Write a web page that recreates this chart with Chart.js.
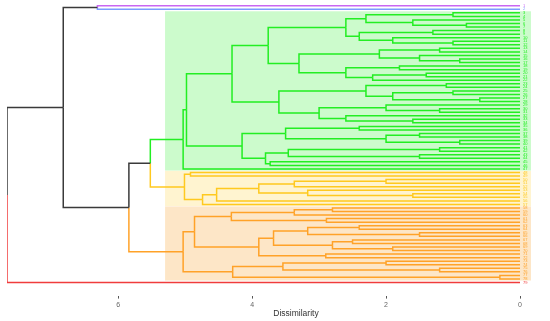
<!DOCTYPE html>
<html lang="en">
<head>
<meta charset="UTF-8">
<title>Dendrogram</title>
<script src="https://cdn.jsdelivr.net/npm/chart.js"></script>
<style>
  html, body { margin: 0; padding: 0; background: #fff; }
  #wrap { width: 550px; height: 321px; }
</style>
</head>
<body>
<div id="wrap"><canvas id="dend"></canvas></div>
<script>
// leaf labels, top to bottom (too small to read in the source, so plain ids)
const leafLabels = [
  '1','2','3','4','5','6','7','8','9','10','11','12','13','14','15','16','17','18','19','20',
  '21','22','23','24','25','26','27','28','29','30','31','32','33','34','35','36','37','38','39','40',
  '41','42','43','44','45','46','47','48','49','50','51','52','53','54','55','56','57','58','59','60',
  '61','62','63','64','65','66','67','68','69','70','71','72','73','74','75','76','77','78','79'
];

// k = 6 clusters, top to bottom
const clusterSizes  = [1, 1, 45, 10, 21, 1];
const clusterColors = ['#c966f2', '#7c9cff', '#22ee22', '#ffc91f', '#ffa228', '#f03c3c'];
const clusterFills  = [null, null, 'rgba(40,240,40,0.24)', 'rgba(255,205,40,0.22)', 'rgba(248,160,40,0.26)', null];
const rectCut = 5.3;

// subtrees: [height, upper, lower]; plain numbers are leaf indices
const greenTree = [5.03,
  [4.98,
    [4.3,
      [3.76,
        [2.6, [2.3, [1.0, 2, 3], [1.6, 4, [0.8, 5, 6]]], [2.4, [1.3, 7, 8], [1.9, 9, [1.0, 10, 11]]]],
        [3.3, [2.1, [1.2, 12, 13], [1.5, 14, [0.9, 15, 16]]], [2.6, [1.8, 17, 18], [2.2, [1.4, 19, 20], 21]]]],
      [3.6,
        [2.3, [1.1, 22, 23], [1.9, [1.0, 24, 25], [0.6, 26, 27]]],
        [3.0, [2.0, 28, [1.2, 29, 30]], [2.6, 31, [1.6, 32, 33]]]]],
    [4.15,
      [3.5, [2.4, 34, 35], [2.0, [1.5, 36, 37], [0.9, 38, 39]]],
      [3.8, [3.46, [1.2, 40, 41], [1.5, 42, 43]], [3.73, 44, 45]]]],
  46];

const yellowTree = [5.01, [4.92, 47, 48],
  [4.74, [4.53, [3.9, [3.37, [2.0, 49, 50], 51], [3.17, 52, [1.6, 53, 54]]], 55], 56]];

const orangeTree = [5.03,
  [4.86,
    [4.31, [3.37, [2.8, 57, 58], 59], [2.89, 60, 61]],
    [3.9,
      [3.68, [3.17, [2.4, 62, 63], [1.5, 64, 65]], [2.8, [2.5, 66, 67], [1.9, 68, 69]]],
      [2.9, 70, 71]]],
  [4.29, [3.54, [2.0, 72, 73], [1.2, 74, 75]], [0.3, 76, 77]]];

const tree = [7.66, [6.82, [6.31, 0, 1], [5.84, [5.52, greenTree, yellowTree], orangeTree]], 78];

const xTicks = [0, 2, 4, 6];

// ---- layout helpers
const leafCluster = [];
clusterSizes.forEach((s, c) => { for (let i = 0; i < s; i++) leafCluster.push(c); });

function leavesOf(n) { return Array.isArray(n) ? leavesOf(n[1]).concat(leavesOf(n[2])) : [n]; }
function yOf(n) { return Array.isArray(n) ? (yOf(n[1]) + yOf(n[2])) / 2 : n; }
function hOf(n) { return Array.isArray(n) ? n[0] : 0; }
function colorOf(n) {
  const cs = new Set(leavesOf(n).map(i => leafCluster[i]));
  return cs.size === 1 ? clusterColors[[...cs][0]] : '#3a3a3a';
}

const datasets = [];
function walk(n) {
  if (!Array.isArray(n)) return;
  const h = n[0], y = yOf(n);
  [n[1], n[2]].forEach(c => {
    const yc = yOf(c);
    datasets.push({
      data: [{ x: h, y: y }, { x: h, y: yc }, { x: hOf(c), y: yc }],
      showLine: true,
      borderColor: colorOf(c),
      borderWidth: 1.5,
      pointRadius: 0,
      pointHoverRadius: 0,
      tension: 0
    });
    walk(c);
  });
}
walk(tree);

// cluster boxes behind the branches
const boxPlugin = {
  id: 'boxes',
  beforeDatasetsDraw(chart) {
    const { ctx, scales: { x, y }, chartArea } = chart;
    let start = 0;
    ctx.save();
    clusterSizes.forEach((s, c) => {
      if (clusterFills[c]) {
        const top = y.getPixelForValue(start - 0.45);
        const bot = y.getPixelForValue(start + s - 1 + 0.45);
        const left = x.getPixelForValue(rectCut);
        ctx.fillStyle = clusterFills[c];
        ctx.fillRect(left, top, chartArea.right + 11 - left, bot - top);
      }
      start += s;
    });
    ctx.restore();
  }
};

// leaf labels and axis title
const textPlugin = {
  id: 'texts',
  afterDraw(chart) {
    const { ctx, scales: { x, y } } = chart;
    ctx.save();
    ctx.font = '4px Arial';
    ctx.textBaseline = 'middle';
    ctx.textAlign = 'left';
    leafLabels.forEach((lab, i) => {
      ctx.fillStyle = clusterColors[leafCluster[i]];
      ctx.fillText(lab, x.getPixelForValue(0) + 3, y.getPixelForValue(i));
    });
    ctx.fillStyle = '#333';
    ctx.font = '8.5px Arial';
    ctx.textAlign = 'center';
    ctx.fillText('Dissimilarity', 296, 314);
    ctx.restore();
  }
};

new Chart(document.getElementById('dend'), {
  type: 'scatter',
  data: { datasets },
  options: {
    responsive: true,
    maintainAspectRatio: false,
    animation: false,
    layout: { padding: { left: 7, right: 30, top: 4, bottom: 10 } },
    plugins: { legend: { display: false }, tooltip: { enabled: false } },
    scales: {
      x: {
        type: 'linear',
        reverse: true,
        min: 0,
        max: 7.66,
        afterBuildTicks: s => { s.ticks = xTicks.map(v => ({ value: v })); },
        ticks: { color: '#666', font: { size: 7, family: 'Arial' }, padding: 2 },
        grid: { display: true, drawOnChartArea: false, drawTicks: true, tickLength: 3, color: '#555' },
        border: { display: false }
      },
      y: {
        type: 'linear',
        reverse: true,
        min: -0.5,
        max: 81.7,
        display: false
      }
    }
  },
  plugins: [boxPlugin, textPlugin]
});
</script>
</body>
</html>
